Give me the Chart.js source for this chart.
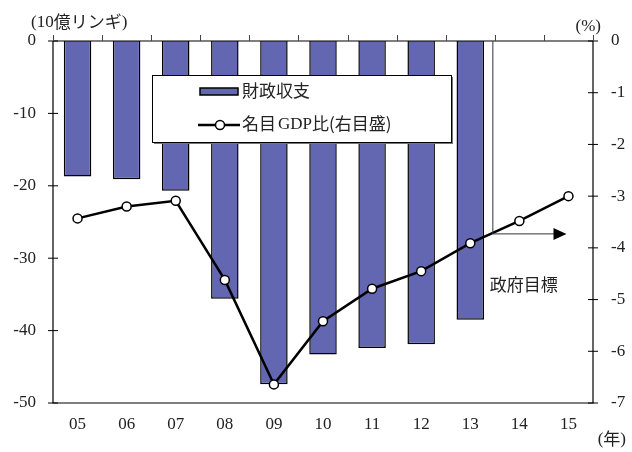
<!DOCTYPE html>
<html>
<head>
<meta charset="utf-8">
<script src="https://cdn.jsdelivr.net/npm/chart.js@4"></script>
<style>
  html, body { margin: 0; padding: 0; background: #fff; }
  #wrap { width: 632px; height: 452px; }
</style>
</head>
<body>
<div id="wrap"><canvas id="c" width="632" height="452"></canvas></div>
<script>
const years = ['05', '06', '07', '08', '09', '10', '11', '12', '13', '14', '15'];
const balance = [-18.7, -19.1, -20.7, -35.6, -47.4, -43.3, -42.4, -41.9, -38.5, null, null];
const gdpRatio = [-3.43, -3.2, -3.09, -4.62, -6.64, -5.42, -4.79, -4.45, -3.91, -3.48, -3.0];
const leftTicks = [0, -10, -20, -30, -40, -50];
const rightTicks = [0, -1, -2, -3, -4, -5, -6, -7];
const targetLevel = -3.73;

const serif = '"Liberation Serif", "Times New Roman", serif';
const jp = '"Noto Sans CJK JP", sans-serif';
const barColor = '#6366b1';

const decorPlugin = {
  id: 'decor',
  afterDraw: chart => {
    const ctx = chart.ctx;
    const area = chart.chartArea;
    const x = chart.scales.x;
    const y = chart.scales.y;
    const y1 = chart.scales.y1;
    ctx.save();

    // frame: left, bottom, right axes
    ctx.strokeStyle = '#000';
    ctx.lineWidth = 1.2;
    ctx.beginPath();
    ctx.moveTo(area.left, area.top);
    ctx.lineTo(area.left, area.bottom);
    ctx.lineTo(area.right, area.bottom);
    ctx.lineTo(area.right, area.top);
    ctx.stroke();
    // zero line at top
    ctx.beginPath();
    ctx.moveTo(area.left, y.getPixelForValue(0));
    ctx.lineTo(area.right, y.getPixelForValue(0));
    ctx.stroke();

    // ticks crossing axes
    ctx.lineWidth = 1;
    leftTicks.forEach(v => {
      const py = y.getPixelForValue(v);
      ctx.beginPath();
      ctx.moveTo(area.left - 5, py);
      ctx.lineTo(area.left + 5, py);
      ctx.stroke();
    });
    rightTicks.forEach(v => {
      const py = y1.getPixelForValue(v);
      ctx.beginPath();
      ctx.moveTo(area.right - 5, py);
      ctx.lineTo(area.right + 5, py);
      ctx.stroke();
    });
    // category boundary ticks on top
    ctx.strokeStyle = '#444';
    for (let i = 0; i <= years.length; i++) {
      const px = Math.round(x.getPixelForValue(i - 0.5)) + 0.5;
      ctx.beginPath();
      ctx.moveTo(px, area.top);
      ctx.lineTo(px, area.top - 6);
      ctx.stroke();
    }

    // unit labels
    ctx.fillStyle = '#222';
    ctx.textBaseline = 'middle';
    ctx.textAlign = 'left';
    ctx.font = '17px ' + serif;
    ctx.fillText('(', 31, 23);
    let cx = 31 + ctx.measureText('(').width;
    ctx.fillText('10', cx, 23);
    cx += ctx.measureText('10').width;
    ctx.font = '17px ' + jp;
    ctx.fillText('億リンギ', cx, 22);
    cx += ctx.measureText('億リンギ').width;
    ctx.font = '17px ' + serif;
    ctx.fillText(')', cx, 23);

    ctx.textAlign = 'right';
    ctx.fillText('(%)', 601, 27);
    ctx.fillText(')', 626, 440);
    const rw = ctx.measureText(')').width;
    ctx.font = '17px ' + jp;
    ctx.fillText('年', 626 - rw, 439);
    const nw = ctx.measureText('年').width;
    ctx.font = '17px ' + serif;
    ctx.fillText('(', 626 - rw - nw, 440);

    // government target arrow
    const vx = x.getPixelForValue(8.46);
    const ty = y1.getPixelForValue(targetLevel);
    const tipX = x.getPixelForValue(9.96);
    ctx.strokeStyle = '#333';
    ctx.lineWidth = 1;
    ctx.beginPath();
    ctx.moveTo(vx, area.top);
    ctx.lineTo(vx, ty);
    ctx.lineTo(tipX - 12, ty);
    ctx.stroke();
    ctx.fillStyle = '#000';
    ctx.beginPath();
    ctx.moveTo(tipX, ty);
    ctx.lineTo(tipX - 13, ty - 6);
    ctx.lineTo(tipX - 13, ty + 6);
    ctx.closePath();
    ctx.fill();
    ctx.fillStyle = '#222';
    ctx.textAlign = 'left';
    ctx.font = '17px ' + jp;
    ctx.fillText('政府目標', vx - 3, y1.getPixelForValue(-4.7));

    // legend box
    const lx = 152, ly = 75, lw = 299, lh = 67;
    ctx.fillStyle = '#777';
    ctx.fillRect(lx + 2, ly + 2, lw, lh);
    ctx.fillStyle = '#fff';
    ctx.fillRect(lx, ly, lw, lh);
    ctx.strokeStyle = '#000';
    ctx.lineWidth = 1;
    ctx.strokeRect(lx + 0.5, ly + 0.5, lw, lh);

    ctx.fillStyle = barColor;
    ctx.fillRect(200, 88, 38, 7);
    ctx.strokeStyle = '#000';
    ctx.lineWidth = 1.5;
    ctx.strokeRect(200, 88, 38, 7);
    ctx.fillStyle = '#222';
    ctx.font = '17px ' + jp;
    ctx.textAlign = 'left';
    ctx.fillText('財政収支', 242, 91);

    ctx.strokeStyle = '#000';
    ctx.lineWidth = 2.5;
    ctx.beginPath();
    ctx.moveTo(198, 125);
    ctx.lineTo(240, 125);
    ctx.stroke();
    ctx.fillStyle = '#fff';
    ctx.lineWidth = 1.5;
    ctx.beginPath();
    ctx.arc(220, 125, 4.5, 0, Math.PI * 2);
    ctx.fill();
    ctx.stroke();
    ctx.fillStyle = '#222';
    ctx.font = '17px ' + jp;
    ctx.fillText('名目', 242, 124);
    const w1 = ctx.measureText('名目').width;
    ctx.font = '17px ' + serif;
    ctx.fillText('GDP', 244 + w1, 125);
    const w2 = ctx.measureText('GDP').width;
    ctx.font = '17px ' + jp;
    ctx.fillText('比(右目盛)', 244 + w1 + w2, 124);

    ctx.restore();
  }
};

new Chart(document.getElementById('c').getContext('2d'), {
  type: 'bar',
  data: {
    labels: years,
    datasets: [
      {
        type: 'line',
        label: '名目GDP比（右目盛）',
        data: gdpRatio,
        yAxisID: 'y1',
        borderColor: '#000',
        borderWidth: 2.5,
        pointRadius: 4.5,
        pointBackgroundColor: '#fff',
        pointBorderColor: '#000',
        pointBorderWidth: 1.5,
        tension: 0,
        order: 0
      },
      {
        label: '財政収支',
        data: balance,
        yAxisID: 'y',
        backgroundColor: barColor,
        borderColor: '#000',
        borderWidth: 1.5,
        categoryPercentage: 1,
        barPercentage: 0.56,
        order: 1
      }
    ]
  },
  options: {
    responsive: false,
    animation: false,
    layout: { padding: 0 },
    plugins: {
      legend: { display: false },
      tooltip: { enabled: false }
    },
    scales: {
      x: {
        position: 'bottom',
        offset: true,
        grid: { display: false },
        border: { display: false },
        ticks: { color: '#222', font: { family: serif, size: 17 }, padding: 3, maxRotation: 0 },
        afterFit: s => { s.height = 49; }
      },
      y: {
        position: 'left',
        min: -50,
        max: 0,
        grid: { display: false },
        border: { display: false },
        ticks: { stepSize: 10, color: '#222', font: { family: serif, size: 17 }, padding: 9 },
        afterFit: s => { s.width = 53; }
      },
      y1: {
        position: 'right',
        min: -7,
        max: 0,
        grid: { display: false },
        border: { display: false },
        ticks: { stepSize: 1, color: '#222', font: { family: serif, size: 17 }, padding: 10 },
        afterFit: s => { s.width = 39; }
      },
      top: {
        type: 'category',
        position: 'top',
        display: true,
        grid: { display: false },
        border: { display: false },
        ticks: { display: false },
        afterFit: s => { s.height = 41; }
      }
    }
  },
  plugins: [decorPlugin]
});
</script>
</body>
</html>
